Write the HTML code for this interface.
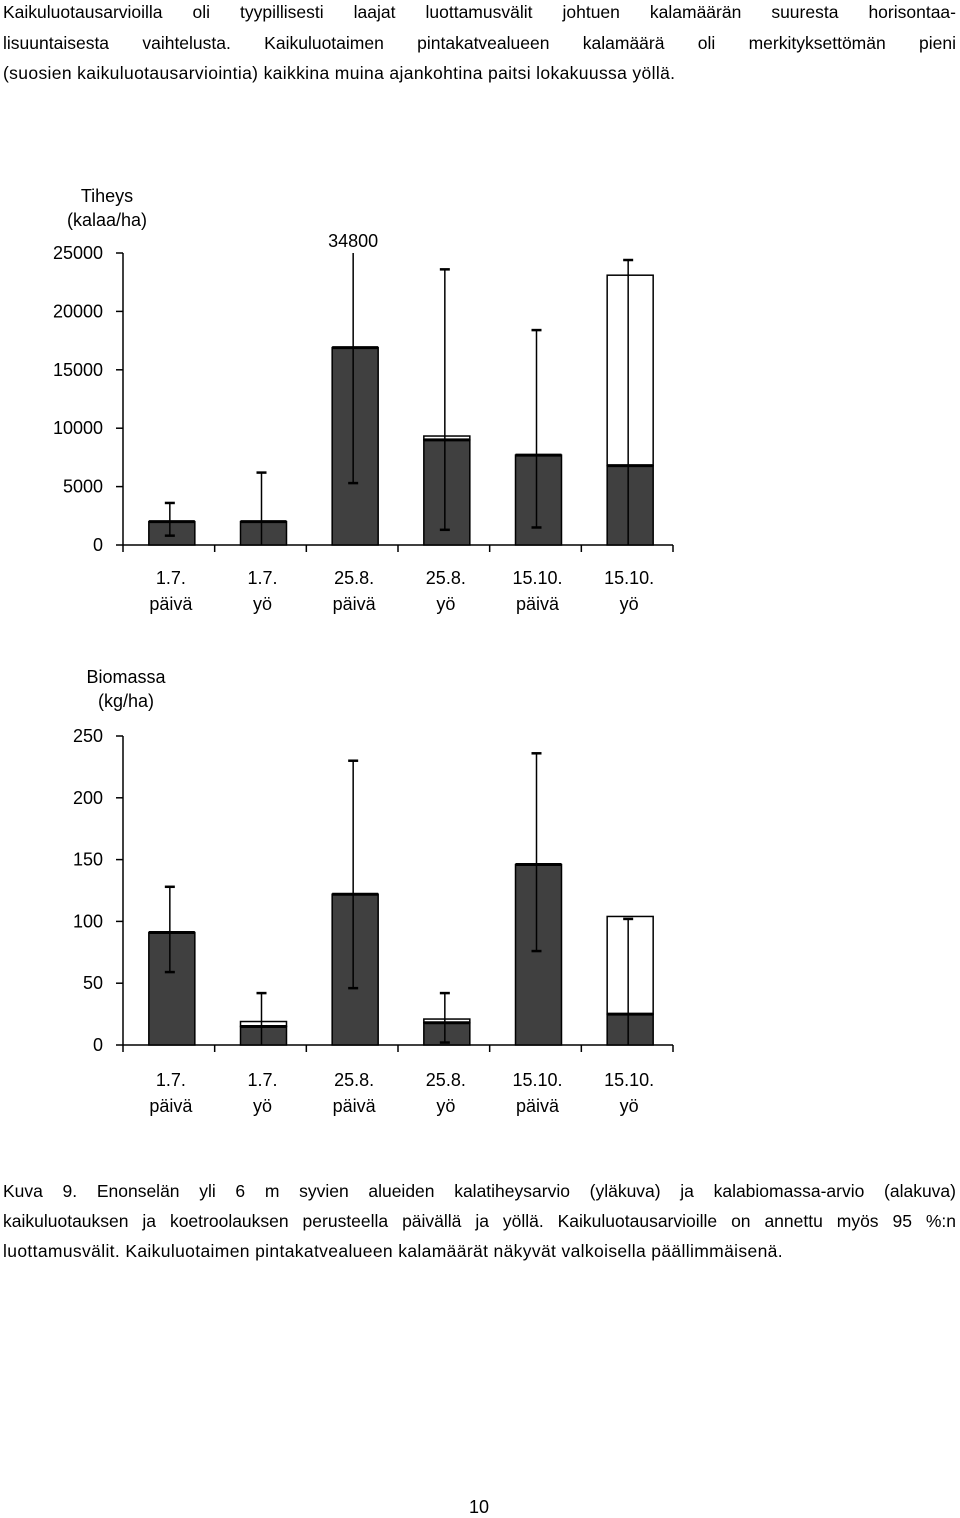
<!DOCTYPE html>
<html><head><meta charset="utf-8">
<style>
body{margin:0;width:960px;height:1517px;background:#fff;position:relative;font-family:"Liberation Sans",sans-serif;color:#000;overflow:hidden}
.l{position:absolute;left:3px;width:953px;font-size:17.5px;line-height:30px;white-space:nowrap}
.j{text-align:justify;text-align-last:justify;white-space:normal}
svg{position:absolute;left:0;top:0}
svg text{font-family:"Liberation Sans",sans-serif;font-size:18px;fill:#000}
</style></head>
<body>
<div>
<div class="l j" style="top:-3px">Kaikuluotausarvioilla oli tyypillisesti laajat luottamusvälit johtuen kalamäärän suuresta horisontaa-</div>
<div class="l j" style="top:28px">lisuuntaisesta vaihtelusta. Kaikuluotaimen pintakatvealueen kalamäärä oli merkityksettömän pieni</div>
<div class="l" style="top:58px;letter-spacing:0.35px">(suosien kaikuluotausarviointia) kaikkina muina ajankohtina paitsi lokakuussa yöllä.</div>
</div>
<div>
<div class="l j" style="top:1176px">Kuva 9. Enonselän yli 6 m syvien alueiden kalatiheysarvio (yläkuva) ja kalabiomassa-arvio (alakuva)</div>
<div class="l j" style="top:1206px">kaikuluotauksen ja koetroolauksen perusteella päivällä ja yöllä. Kaikuluotausarvioille on annettu myös 95 %:n</div>
<div class="l" style="top:1236px;letter-spacing:0.35px">luottamusvälit. Kaikuluotaimen pintakatvealueen kalamäärät näkyvät valkoisella päällimmäisenä.</div>
</div>
<div style="position:absolute;left:469px;top:1497px;font-size:18px">10</div>
<svg id="chart" width="960" height="1517"></svg>
<script>
const categories=["1.7.|päivä","1.7.|yö","25.8.|päivä","25.8.|yö","15.10.|päivä","15.10.|yö"];
const densDark=[2000,2000,16900,9000,7700,6800];
const densWhite=[0,0,0,330,0,16300];
const densErrHi=[3600,6200,34800,23600,18400,24400];
const densErrLo=[800,0,5300,1300,1500,0];
const densTicks=[0,5000,10000,15000,20000,25000];
const bioDark=[91,15,122,18,146,25];
const bioWhite=[0,4,0,3,0,79];
const bioErrHi=[128,42,230,42,236,102];
const bioErrLo=[59,0,46,2,76,0];
const bioTicks=[0,50,100,150,200,250];
const NS="http://www.w3.org/2000/svg";
const svg=document.getElementById('chart');
function mk(t,a,p){const e=document.createElementNS(NS,t);for(const k in a)e.setAttribute(k,a[k]);(p||svg).appendChild(e);return e;}
function drawChart(o){
  const g=mk('g',{});
  
  
  const x0=123,x1=673,y0=o.y0,yT=o.yTop,max=o.ticks[o.ticks.length-1];
  const y=v=>y0-(Math.min(v,max))/max*(y0-yT);
  const n=o.cats.length,cw=(x1-x0)/n;
  const cx=i=>x0+cw*(i+0.5)+3;
  const ya=mk('line',{x1:x0,y1:yT,x2:x0,y2:y0,stroke:'#000','stroke-width':1.5},g);
  
  const xa=mk('line',{x1:x0,y1:y0,x2:x1,y2:y0,stroke:'#000','stroke-width':1.5},g);
  
  o.ticks.forEach(t=>{
    mk('line',{x1:x0-7,y1:y(t),x2:x0,y2:y(t),stroke:'#000','stroke-width':1.5},g);
    const tx=mk('text',{x:103,y:y(t)+6,'text-anchor':'end'},g);tx.textContent=t;
    
  });
  for(let i=0;i<=n;i++)mk('line',{x1:x0+cw*i,y1:y0,x2:x0+cw*i,y2:y0+7,stroke:'#000','stroke-width':1.5},g);
  o.title.forEach((s,k)=>{const t=mk('text',{x:o.titleX,y:o.titleY+k*24,'text-anchor':'middle'},g);t.textContent=s;
    });
  o.cats.forEach((c,i)=>{
    const bw=46,bx=cx(i)-bw/2;
    const yd=y(o.dark[i]);
    const tot=o.dark[i]+o.white[i];
    if(o.white[i]>0){
      const w=mk('rect',{x:bx,y:y(tot),width:bw,height:yd-y(tot),fill:'#fff',stroke:'#000','stroke-width':1.5},g);
      
    }
    const d=mk('rect',{x:bx,y:yd,width:bw,height:y0-yd,fill:'#404040',stroke:'#000','stroke-width':1.5},g);
    
    mk('line',{x1:bx,y1:yd,x2:bx+bw,y2:yd,stroke:'#000','stroke-width':3},g);
    const ex=cx(i)-2,yh=y(o.hi[i]),yl=y(o.lo[i]);
    const e=mk('line',{x1:ex,y1:yh,x2:ex,y2:yl,stroke:'#000','stroke-width':1.5},g);
    
    if(o.hi[i]<=max)mk('line',{x1:ex-5,y1:yh,x2:ex+5,y2:yh,stroke:'#000','stroke-width':2.5},g);
    else{const l=mk('text',{x:ex,y:yT-6,'text-anchor':'middle','font-size':'16'},g);l.textContent=o.hi[i];
      }
    if(o.lo[i]>0)mk('line',{x1:ex-5,y1:yl,x2:ex+5,y2:yl,stroke:'#000','stroke-width':2.5},g);
    const parts=c.split('|');
    parts.forEach((s,k)=>{const t=mk('text',{x:cx(i)-1,y:o.labY+k*26,'text-anchor':'middle'},g);t.textContent=s;
      });
  });
}
drawChart({name:'density-chart',cats:categories,dark:densDark,white:densWhite,hi:densErrHi,lo:densErrLo,ticks:densTicks,
  y0:545,yTop:253,title:['Tiheys','(kalaa/ha)'],titleX:107,titleY:202,labY:584});
drawChart({name:'biomass-chart',cats:categories,dark:bioDark,white:bioWhite,hi:bioErrHi,lo:bioErrLo,ticks:bioTicks,
  y0:1045,yTop:736,title:['Biomassa','(kg/ha)'],titleX:126,titleY:683,labY:1086});
</script>
</body></html>
